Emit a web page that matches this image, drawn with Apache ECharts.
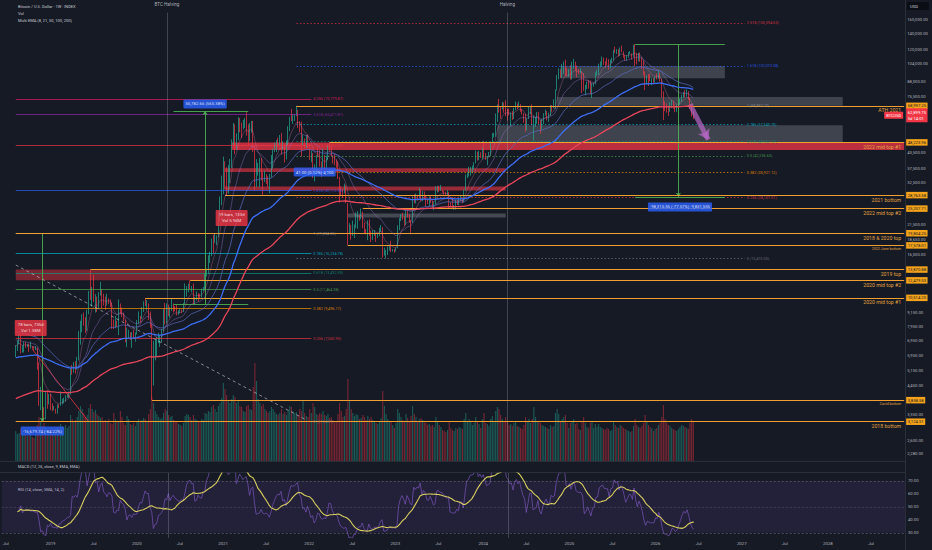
<!DOCTYPE html>
<html>
<head>
<meta charset="utf-8">
<script src="https://cdn.jsdelivr.net/npm/echarts@6/dist/echarts.min.js"></script>
<style>
html,body{margin:0;padding:0;background:#161a25;overflow:hidden}
#chart{width:932px;height:550px}
</style>
</head>
<body>
<div id="chart"></div>
<script>
// ================= DATA =================
const weekStart = '2018-06-11';   // first weekly slot on the time axis
const weekCount = 545;            // weekly slots up to late 2028
const dataStart = '2018-08-13';   // first weekly candle
const firstOpenK = 6.31;          // open of first candle (thousand USD)

// weekly closes (thousand USD), 2018-08-13 .. 2026-06-08
const closeK = [
6.48,6.70,7.27,6.25,6.50,6.71,6.60,6.60,6.48,6.50,6.42,6.37,6.37,5.57,4.02,4.11,3.52,3.22,3.99,3.81,4.05,
3.55,3.54,3.54,3.41,3.68,3.66,3.83,3.85,3.92,4.00,4.02,4.10,5.20,5.15,5.30,5.20,5.75,6.95,8.20,8.75,8.55,7.65,8.98,10.85,10.80,11.45,10.20,10.55,9.50,10.80,11.30,10.30,10.15,9.75,10.40,10.35,10.05,8.05,7.90,8.30,8.20,9.55,9.20,9.05,8.50,6.90,7.40,7.50,7.10,7.50,7.40,7.45,
8.18,8.70,8.60,9.35,10.15,9.90,9.95,8.55,8.05,5.36,5.82,5.89,6.78,6.90,7.15,7.55,8.90,8.75,9.70,8.90,9.45,9.70,9.40,9.30,9.10,9.10,9.25,9.20,9.95,11.10,11.70,11.90,11.65,11.70,10.25,10.35,10.95,10.75,10.68,11.37,11.50,13.05,13.75,15.48,16.00,18.40,18.20,19.15,19.25,23.80,26.45,32.20,
38.2,35.8,32.25,33.1,38.9,48.6,57.5,45.2,50.95,59.0,57.5,55.8,58.8,60.0,56.2,49.1,56.6,58.2,46.45,34.7,35.6,35.8,39.0,35.5,34.7,35.3,34.25,31.8,35.4,39.85,43.8,47.0,49.2,48.8,51.8,46.0,47.3,43.2,48.2,54.7,61.5,61.2,61.3,63.3,65.0,58.7,57.3,49.4,50.1,46.7,50.8,47.3,
41.85,43.1,36.3,37.9,42.4,42.2,38.4,37.7,38.4,37.8,41.3,46.8,46.4,42.2,39.7,39.5,38.5,34.1,31.3,30.3,29.4,29.9,26.6,20.6,21.0,19.3,20.8,20.8,22.6,23.3,23.2,24.4,21.6,20.0,19.8,21.8,19.4,18.8,19.3,19.4,19.2,19.6,20.6,21.0,16.3,16.3,16.45,17.1,17.1,16.75,16.85,16.55,
17.1,20.9,22.7,23.75,22.95,21.8,24.3,23.55,22.4,22.1,28.0,27.45,28.45,28.3,30.3,27.6,29.25,28.7,26.9,26.75,28.1,27.1,25.85,26.35,30.5,30.6,30.15,30.25,29.8,29.3,29.05,29.3,26.1,26.0,25.85,25.85,26.55,26.25,27.95,27.95,26.85,29.95,34.5,35.0,37.05,37.35,37.45,39.45,43.8,41.4,43.0,42.3,
43.95,42.85,41.6,42.05,42.55,48.3,51.65,51.7,63.1,68.95,68.4,67.2,71.3,69.4,65.65,64.95,63.45,63.9,61.5,66.95,69.3,67.75,69.65,66.65,64.25,62.7,55.85,60.8,68.15,68.25,58.1,58.7,59.45,64.2,57.3,54.85,59.95,63.3,65.6,62.8,62.9,69.0,67.9,68.75,80.4,89.8,97.9,97.2,101.2,104.5,95.1,93.7,98.3,
94.5,101.3,102.6,97.7,96.5,96.2,96.3,94.3,80.7,82.6,86.1,82.5,78.3,84.5,85.15,93.8,94.3,104.1,106.5,107.8,105.7,105.6,105.5,100.9,108.4,109.2,119.1,117.3,119.4,114.2,119.3,117.5,113.5,108.3,111.2,115.3,115.3,112.2,123.5,115.0,108.7,114.5,110.6,104.7,94.2,86.8,90.4,89.3,88.2,88.5,87.8,91.5,
90.6,95.0,89.0,78.5,69.5,68.8,67.5,66.0,68.0,70.5,69.0,66.5,67.5,70.0,72.5,75.5,77.8,76.5,78.5,74.5,68.5,64.0,62.89975
];
const highK = [
6.62,6.90,7.40,7.40,6.60,6.83,6.83,6.70,6.72,6.85,6.54,6.54,6.56,6.46,5.58,4.40,4.20,3.60,4.20,4.25,4.10,
4.10,3.74,3.65,3.55,3.70,3.71,4.20,3.91,3.95,4.05,4.09,4.20,5.30,5.45,5.60,5.65,5.90,7.60,8.40,8.95,9.10,8.70,9.35,11.25,13.87,11.70,13.20,10.90,10.65,11.10,12.30,11.45,10.95,10.65,10.95,10.45,10.35,10.05,8.50,8.80,8.40,10.35,9.95,9.55,9.10,8.50,7.85,7.70,7.45,7.52,7.65,7.50,
8.45,9.20,8.80,9.60,10.17,10.50,10.30,9.95,9.20,8.20,6.90,6.95,7.20,7.47,7.30,7.75,9.45,10.00,9.95,9.85,9.60,10.40,9.95,9.70,9.80,9.30,9.45,9.40,10.00,12.10,11.80,12.08,12.48,11.80,12.10,10.60,11.18,10.99,10.95,11.50,11.70,13.35,14.00,15.95,16.50,18.80,19.50,19.80,19.40,24.30,28.40,34.80,
41.95,40.1,37.8,38.6,41.0,49.7,58.35,57.5,52.65,61.8,61.2,58.6,60.2,61.3,64.9,57.6,58.45,59.5,59.6,46.55,40.9,39.5,41.3,41.4,36.0,36.6,35.1,34.6,35.4,42.6,45.3,48.1,49.3,50.5,51.9,52.9,48.8,47.3,49.2,56.5,62.0,67.0,63.7,63.5,68.997,66.3,59.3,59.1,51.95,50.1,51.8,52.1,
47.6,44.5,43.5,38.9,42.6,45.8,44.7,40.0,45.4,42.6,42.4,46.9,48.224,47.0,42.5,42.9,40.8,40.0,34.4,31.3,30.6,32.2,31.7,26.6,21.85,21.5,22.4,21.6,24.3,24.6,23.6,25.208,24.45,22.0,20.6,22.5,22.7,20.3,20.4,20.45,19.9,19.7,20.9,21.45,21.0,17.2,16.8,17.4,17.45,18.4,16.95,16.95,
17.2,21.4,23.0,23.9,24.2,23.45,25.2,25.1,23.9,22.6,28.4,29.0,29.2,28.6,31.0,30.5,30.0,29.8,28.1,27.6,28.4,28.45,27.3,26.8,31.4,31.5,31.5,31.8,30.35,30.05,29.75,30.2,29.7,26.8,28.2,26.1,27.5,27.4,28.05,28.6,28.0,30.3,35.2,35.95,38.0,37.95,38.4,39.7,44.5,44.0,44.4,43.8,
45.9,49.0,43.5,42.25,43.9,48.6,52.8,52.95,64.0,70.0,73.8,68.9,71.75,71.3,72.8,66.9,67.2,64.7,65.5,67.7,71.95,70.6,71.95,70.2,66.95,63.35,63.8,61.0,68.5,68.8,70.0,62.7,61.8,65.0,64.95,59.8,60.7,64.2,66.5,65.6,64.5,69.4,69.5,73.6,81.0,93.45,99.6,98.7,104.0,106.5,108.35,99.9,98.9,
102.7,106.3,109.35,106.4,102.5,98.8,99.5,96.5,95.0,84.7,87.45,88.75,88.5,86.0,86.45,95.75,97.9,104.3,106.6,111.9,110.7,106.8,110.5,108.9,108.5,110.5,119.5,123.2,120.25,120.0,122.3,124.5,117.6,113.5,113.4,116.8,117.9,115.4,125.7,126.2,115.9,116.0,116.4,110.8,107.5,96.5,93.0,94.1,94.6,90.3,90.5,92.0,
94.8,97.8,95.5,90.0,79.5,72.0,70.5,69.0,71.5,73.0,72.5,70.0,69.8,71.5,74.0,77.0,79.0,80.5,81.0,79.5,75.0,69.0,65.5
];
const lowK = [
5.88,6.25,6.68,6.10,6.15,6.16,6.45,6.50,6.20,6.40,6.38,6.25,6.30,5.20,3.65,3.50,3.33,3.1245,3.20,3.55,3.70,
3.50,3.46,3.50,3.38,3.38,3.57,3.65,3.70,3.74,3.80,3.95,3.95,4.08,4.95,5.05,5.00,5.20,5.70,6.65,7.50,8.00,7.45,7.60,8.95,10.30,9.65,10.10,9.10,9.15,9.40,10.75,9.50,9.75,9.35,9.75,9.90,9.60,7.75,7.75,7.80,7.90,7.30,9.00,8.70,8.35,6.80,6.50,7.10,6.95,6.45,7.05,6.85,
7.35,8.12,8.25,8.55,9.15,9.70,9.30,8.45,7.85,3.858,4.45,5.70,5.87,6.75,6.50,6.80,7.65,8.10,8.20,8.80,8.65,9.25,9.10,9.20,8.85,8.90,9.05,9.05,9.15,9.90,10.65,11.10,11.40,11.10,9.90,9.90,10.25,10.15,10.40,10.55,11.20,11.40,12.95,13.25,14.80,15.80,16.20,18.00,17.60,19.00,22.40,26.10,
29.0,30.4,28.8,29.2,32.3,37.5,47.0,43.0,44.95,49.3,53.3,50.4,54.8,55.5,51.5,47.0,48.8,53.0,43.8,30.0,31.1,34.8,31.0,33.3,28.8,32.7,32.1,31.1,29.3,34.2,37.4,43.8,43.9,46.1,46.6,42.8,44.7,39.6,40.8,47.1,53.9,59.5,57.8,59.5,62.3,55.6,53.3,42.0,46.8,45.5,45.6,45.7,
40.6,39.7,34.0,32.9,36.3,41.7,38.0,34.3,37.4,37.2,37.6,40.5,44.2,42.1,39.2,38.6,37.6,33.7,26.7,28.6,28.0,29.3,26.6,17.578,19.6,18.6,19.3,18.9,20.8,20.7,22.4,22.7,20.8,19.8,19.6,18.5,19.3,18.15,18.5,19.3,18.2,18.9,19.25,20.1,15.6,15.9,15.48,16.0,16.7,16.5,16.55,16.35,
16.55,17.2,20.4,22.3,22.6,21.35,21.55,23.1,21.95,19.6,21.9,26.6,26.5,27.25,28.1,27.1,27.1,27.7,25.8,26.4,25.9,26.6,25.35,24.8,26.25,29.5,29.7,29.95,29.5,28.9,28.6,28.7,25.1,25.8,25.35,24.9,24.95,26.1,26.0,27.25,26.55,26.8,29.9,34.0,34.5,34.8,35.65,36.9,39.3,40.3,40.5,41.4,
40.75,41.5,40.6,38.55,41.8,42.25,47.7,50.6,50.9,59.0,64.55,60.8,66.5,64.5,62.3,59.6,62.8,56.55,60.2,60.65,66.1,66.7,68.5,65.05,63.4,58.45,53.5,54.3,60.6,63.5,57.1,49.05,56.1,57.8,57.2,52.55,54.6,57.6,62.7,59.8,58.9,62.5,65.1,67.5,66.8,80.2,89.5,90.8,90.5,94.15,92.2,92.5,91.5,
89.25,89.25,99.5,97.5,91.2,94.1,94.8,78.2,80.0,76.6,81.2,81.6,77.1,74.5,83.1,85.0,92.8,93.3,100.7,102.0,103.1,100.4,102.7,98.2,99.6,105.0,107.5,115.7,114.7,112.0,112.7,116.8,110.6,107.3,107.4,110.6,114.7,108.6,111.6,102.0,103.5,106.7,106.3,98.9,93.0,80.5,85.3,83.8,87.6,84.4,86.5,86.8,
89.3,90.0,87.5,75.0,60.0,65.5,64.5,62.5,65.0,67.5,67.0,64.8,65.0,66.8,69.5,71.5,74.5,75.0,75.5,73.0,67.0,62.0,60.5
];
// weekly volume (estimated, thousands)
const volumeK = [
30,27,28,32,29,27,26,25,28,27,24,23,26,36,44,40,35,38,34,30,29,
31,33,30,32,34,33,37,35,34,36,33,35,46,42,40,41,44,50,55,52,48,44,46,53,57,52,49,51,47,45,43,44,40,41,39,42,38,37,48,42,40,39,50,44,38,36,45,42,37,36,38,35,
40,42,39,41,43,42,40,47,52,64,58,50,47,44,42,43,48,52,50,46,44,45,41,39,40,37,36,35,38,45,47,46,44,41,46,42,41,40,39,42,41,48,47,50,49,54,56,52,49,55,58,63,
78,72,66,60,58,62,66,64,58,60,55,54,50,49,55,56,52,51,74,98,80,62,58,55,57,52,50,48,50,54,52,49,47,46,48,52,47,49,46,51,55,54,50,48,49,46,52,50,60,48,45,44,
52,48,58,54,47,46,48,47,50,46,45,47,43,44,41,40,39,47,58,50,44,45,52,82,60,52,48,45,47,46,42,43,46,44,41,45,42,44,41,40,38,37,40,43,70,55,47,42,39,40,36,33,
38,52,48,44,41,40,47,43,40,45,55,47,44,40,42,43,41,39,38,36,37,35,36,34,44,40,36,34,31,30,29,31,40,33,31,30,33,32,34,33,32,42,48,40,42,39,36,38,44,40,37,33,
42,48,38,37,35,42,45,40,50,54,52,46,42,40,44,39,36,37,35,38,39,35,34,33,32,36,44,40,42,38,42,54,44,40,39,38,36,35,34,33,32,36,34,35,48,52,47,40,42,44,46,38,33,
38,40,42,37,38,32,31,40,44,38,34,33,38,40,33,37,34,37,34,33,32,31,33,32,30,31,39,36,34,33,36,35,33,32,31,30,29,30,35,42,36,34,33,35,38,46,40,36,34,33,30,32,
33,36,38,44,56,42,38,36,35,33,32,31,30,32,34,36,35,34,33,32,38,42,40
];

const emaLengths = [8, 21, 50, 100, 200];
const emaSeeds = [6600, 7000, 7600, 5840, 3890];   // EMA values just before first candle
const rsiSeedGain = 330, rsiSeedLoss = 400;

const priceTicks = [160000,140000,120000,104000,88000,75500,43500,37500,32500,21500,18650,16000,9150,7950,6950,5950,5150,4450,3350,2600,2280];
const rsiTicks = [70, 60, 50, 40, 30];

// horizontal levels: price, start date, text, small text
const levels = [
  [68997.25, '2021-11-08', 'ATH 2021', 0],
  [48223.96, '2022-03-28', '2022 mid top #1', 0],
  [28763.58, '2021-01-11', '2021 bottom', 0],
  [25207.71, '2022-08-15', '2022 mid top #2', 0],
  [19804.25, '2018-08-13', '2018 & 2020 top', 0],
  [17578.01, '2022-06-13', '2022 June bottom', 1],
  [13870.88, '2019-06-24', '2019 top', 0],
  [12479.33, '2020-08-17', '2020 mid top #2', 0],
  [10514.20, '2020-02-10', '2020 mid top #1', 0],
  [3858.58, '2020-03-09', 'Covid bottom', 1],
  [3124.51, '2018-08-13', '2018 bottom', 0]
];

const fibA = { from: '2018-08-13', to: '2022-01-10', levels: [
  [0, 3124.51], [0.236, 7060.93], [0.382, 9496.17], [0.5, 11464.38], [0.618, 13432.59], [0.786, 16234.78],
  [1, 19804.25], [1.618, 30112.33], [2.618, 46792.07], [3.618, 63471.81], [4.236, 73779.87] ] };
const fibB = { from: '2021-11-08', to: '2027-01-11', levels: [
  [0, 15476.00], [0.236, 28107.01], [0.382, 35921.12], [0.5, 42236.63], [0.618, 48552.13], [0.786, 57543.70],
  [1, 68997.25], [1.618, 102073.38], [2.618, 155594.63] ] };

const redZones = [
  ['2018-08-13', '2020-10-19', 13870.88, 12479.33],
  ['2021-02-08', '2028-12-31', 48223.96, 44800],
  ['2021-01-11', '2024-04-08', 37450, 36050],
  ['2021-01-11', '2024-04-08', 31300, 30100]
];
const greyZones = [
  ['2024-11-25', '2026-10-19', 102000, 90500],
  ['2024-11-11', '2028-02-28', 75200, 69000],
  ['2024-03-04', '2028-02-28', 57100, 48400],
  ['2022-06-13', '2024-04-08', 24000, 23100]
];
// green measuring lines: start, end, arrow at end
const measureLines = [
  [['2020-06-08', 65649], ['2021-04-19', 65649], 0],
  [['2020-06-08', 9866], ['2021-04-19', 9866], 0],
  [['2020-10-19', 9866], ['2020-10-19', 65649], 1],
  [['2025-10-06', 126000], ['2026-10-19', 126000], 0],
  [['2025-10-06', 28300], ['2026-10-19', 28300], 0],
  [['2026-04-06', 126000], ['2026-04-06', 28300], 1],
  [['2018-12-03', 19804.25], ['2018-12-03', 3124.51], 1]
];
const trendLine = [['2018-08-13', 14500], ['2021-12-20', 3178]];
const redDiag = [['2018-10-22', 6350], ['2019-06-17', 3124.51]];
const projArrow = [['2026-05-25', 70000], ['2026-08-10', 49500]];
const notes = [
  ['2020-10-19', 70300, '55,782.66 (565.38%)', 'blue'],
  ['2022-01-24', 36075, '41.00 (0.12%) 4,100', 'blue'],
  ['2026-04-13', 25620, '-98,315.55 (-77.57%) -9,831,555', 'blue'],
  ['2018-12-03', 2852, '-16,679.74 (-84.22%)', 'blue'],
  ['2018-10-15', 7826, '78 bars, 735d\nVol 1.38M', 'red'],
  ['2021-02-08', 22995, '19 bars, 133d\nVol 5.96M', 'red']
];
const halvings = [['2020-05-11', 'BTC Halving'], ['2024-04-20', 'Halving']];
const lastPrice = 62899.75;
const countdown = '5d 14:01';

// ================= STYLE =================
const PMIN = 2126, PMAX = 194600;
const UP = '#22ab94', DN = '#f23645';
const ORANGE = '#f0a030', ORANGE_TXT = '#e2a23e';
const CLEAR = 'rgba(0,0,0,0)';
const emaColors = ['rgba(206,120,170,0.55)', 'rgba(149,117,205,0.7)', 'rgba(92,107,192,0.9)', '#3d6ef5', '#e8465a'];
const emaWidths = [0.6, 0.6, 0.8, 1.3, 1.3];
const redZoneColors = ['rgba(242,54,69,0.45)', 'rgba(242,54,69,0.75)', 'rgba(242,54,69,0.6)', 'rgba(242,54,69,0.6)'];
const greyZoneColors = ['rgba(120,123,134,0.42)', 'rgba(120,123,134,0.42)', 'rgba(120,123,134,0.42)', 'rgba(178,181,190,0.3)'];
const fibColors = {'0':'#787b86','0.236':'#f23645','0.382':'#ff9800','0.5':'#4caf50','0.618':'#089981','0.786':'#00bcd4','1':'#9598a1','1.618':'#2962ff','2.618':'#f23645','3.618':'#9c27b0','4.236':'#e91e63'};
const FONT = 'Roboto';

// ================= BUILD =================
const DAY = 86400000;
const t0 = Date.parse(weekStart + 'T00:00:00Z');
const cats = [];
for (let k = 0; k < weekCount; k++) cats.push(new Date(t0 + k * 7 * DAY).toISOString().slice(0, 10));
const firstCat = cats[0], lastCat = cats[weekCount - 1];
function wk(d) {
  let k = Math.floor((Date.parse(d + 'T00:00:00Z') - t0) / (7 * DAY));
  k = Math.max(0, Math.min(weekCount - 1, k));
  return cats[k];
}
const off = cats.indexOf(dataStart);
const fmt = v => v.toLocaleString('en-US', {minimumFractionDigits: 2, maximumFractionDigits: 2});

const candles = [];
let prevK = firstOpenK;
for (let i = 0; i < closeK.length; i++) {
  const o = prevK, c = closeK[i];
  const h = Math.max(highK[i], o, c), l = Math.min(lowK[i], o, c);
  candles.push([cats[off + i], o * 1000, c * 1000, l * 1000, h * 1000]);
  prevK = c;
}
const volData = volumeK.map((v, i) => ({
  value: [cats[off + i], v],
  itemStyle: {color: candles[i][2] >= candles[i][1] ? 'rgba(34,171,148,0.45)' : 'rgba(242,54,69,0.45)'}
}));
const emaData = emaLengths.map((n, j) => {
  let e = emaSeeds[j];
  const a = 2 / (n + 1);
  return closeK.map((c, i) => { e = a * c * 1000 + (1 - a) * e; return [cats[off + i], +e.toFixed(2)]; });
});
let ag = rsiSeedGain, al = rsiSeedLoss, pc = firstOpenK * 1000;
const rsiVals = closeK.map(ck => {
  const c = ck * 1000, ch = c - pc;
  ag = (ag * 13 + Math.max(ch, 0)) / 14;
  al = (al * 13 + Math.max(-ch, 0)) / 14;
  pc = c;
  return 100 - 100 / (1 + ag / al);
});
const rsiData = rsiVals.map((v, i) => [cats[off + i], +v.toFixed(2)]);
const rsiMaData = rsiVals.map((v, i) => {
  const s = rsiVals.slice(Math.max(0, i - 13), i + 1);
  return [cats[off + i], +(s.reduce((a, b) => a + b, 0) / s.length).toFixed(2)];
});

const xLab = cats.map(d => {
  const t = Date.parse(d + 'T00:00:00Z');
  for (let j = 0; j < 7; j++) {
    const dd = new Date(t + j * DAY);
    if (dd.getUTCDate() === 1) {
      if (dd.getUTCMonth() === 0) return String(dd.getUTCFullYear());
      if (dd.getUTCMonth() === 6) return 'Jul';
    }
  }
  return '';
});

// zones
const zoneData = [];
redZones.forEach((z, i) => zoneData.push([{coord: [wk(z[0]), z[2]], itemStyle: {color: redZoneColors[i]}}, {coord: [wk(z[1]), z[3]]}]));
greyZones.forEach((z, i) => zoneData.push([{coord: [wk(z[0]), z[2]], itemStyle: {color: greyZoneColors[i]}}, {coord: [wk(z[1]), z[3]]}]));

// annotation lines
const annoLines = [];
function fibLines(fib, dashed) {
  fib.levels.forEach(([r, p]) => {
    const col = fibColors[String(r)];
    annoLines.push([
      {coord: [wk(fib.from), p], lineStyle: {color: col, width: 0.8, type: dashed ? [1.5, 2] : 'solid', opacity: 0.85},
       label: {show: true, position: 'end', distance: 2, formatter: r + ' (' + fmt(p) + ')', color: col, fontSize: 3.8, fontFamily: FONT}},
      {coord: [wk(fib.to), p]}
    ]);
  });
}
fibLines(fibA, false);
fibLines(fibB, true);
measureLines.forEach(m => {
  annoLines.push([
    {coord: [wk(m[0][0]), m[0][1]], symbol: 'none', lineStyle: {color: '#4caf50', width: 0.9, type: 'solid'}, label: {show: false}},
    {coord: [wk(m[1][0]), m[1][1]], symbol: m[2] ? 'arrow' : 'none', symbolSize: 4}
  ]);
});
annoLines.push([
  {coord: [wk(trendLine[0][0]), trendLine[0][1]], lineStyle: {color: 'rgba(200,202,210,0.7)', width: 0.9, type: [3, 3]}, label: {show: false}},
  {coord: [wk(trendLine[1][0]), trendLine[1][1]]}
]);
annoLines.push([
  {coord: [wk(redDiag[0][0]), redDiag[0][1]], lineStyle: {color: 'rgba(242,54,69,0.85)', width: 0.9, type: 'solid'}, label: {show: false}},
  {coord: [wk(redDiag[1][0]), redDiag[1][1]]}
]);
halvings.forEach(h => {
  annoLines.push([
    {coord: [wk(h[0]), 172000], lineStyle: {color: 'rgba(178,181,190,0.35)', width: 0.8, type: 'solid'}, label: {show: false}},
    {coord: [wk(h[0]), PMIN]}
  ]);
});
annoLines.push([
  {coord: [wk(projArrow[0][0]), projArrow[0][1]], symbol: 'none', lineStyle: {color: 'rgba(186,104,200,0.7)', width: 5, type: 'solid'}, label: {show: false}},
  {coord: [wk(projArrow[1][0]), projArrow[1][1]], symbol: 'arrow', symbolSize: 10}
]);

// level lines and right-axis labels (two-point transparent lines carrying end labels)
function axisTag(p, label) {
  return [{coord: [firstCat, p], lineStyle: {color: CLEAR, width: 0.5, type: 'solid'}, label: Object.assign({show: true, position: 'end', fontFamily: FONT}, label)}, {coord: [lastCat, p]}];
}
const levelData = [];
levels.forEach(([p, d, txt, small]) => {
  levelData.push([
    {coord: [wk(d), p], lineStyle: {color: ORANGE, width: 1, type: 'solid'},
     label: {show: true, position: 'insideEndBottom', formatter: txt, color: ORANGE_TXT, fontSize: small ? 3.6 : 5.2, fontFamily: FONT, distance: [3, 2]}},
    {coord: [lastCat, p]}
  ]);
});
priceTicks.forEach(p => levelData.push(axisTag(p, {distance: 3, formatter: fmt(p), color: '#b2b5be', fontSize: 4.2})));
levels.forEach(([p]) => levelData.push(axisTag(p, {distance: 2, formatter: fmt(p), color: '#131722', backgroundColor: '#f5a31a', padding: [1.5, 1.5, 1, 1.5], fontSize: 4.2})));
levelData.push(axisTag(lastPrice, {position: 'insideEnd', distance: 1, formatter: 'BTCUSD', color: '#fff', backgroundColor: '#f23645', padding: [1.5, 2], fontSize: 4}));
levelData.push(axisTag(lastPrice, {distance: 2, formatter: fmt(lastPrice) + '\n' + countdown, color: '#fff', backgroundColor: '#f23645', padding: [1.5, 1.5], lineHeight: 5.5, fontSize: 4.2}));

const noteData = notes.map(([d, p, txt, kind]) => ({
  value: [wk(d), p],
  label: {show: true, position: 'inside', formatter: txt, color: '#fff', backgroundColor: kind === 'blue' ? '#2962ff' : '#f23645',
    padding: kind === 'blue' ? [1.5, 2] : [2, 3], lineHeight: 6, fontSize: 4.3, fontFamily: FONT, borderRadius: 1}
}));
halvings.forEach(h => noteData.push({value: [wk(h[0]), 185340], label: {show: true, position: 'inside', formatter: h[1], color: '#d1d4dc', fontSize: 4.6, fontFamily: FONT}}));

// RSI markers
const rsiGuide = {70: [2, 2], 50: [2, 2], 30: [2, 2]};
const rsiLines = rsiTicks.map(v => ({
  yAxis: v,
  lineStyle: rsiGuide[v] ? {color: v === 50 ? 'rgba(120,123,134,0.45)' : 'rgba(120,123,134,0.7)', width: 0.7, type: rsiGuide[v]} : {color: CLEAR, width: 0.5},
  label: {show: true, position: 'end', distance: 3, formatter: v.toFixed(2), color: '#b2b5be', fontSize: 4.2}
}));
halvings.forEach(h => rsiLines.push({xAxis: wk(h[0]), lineStyle: {color: 'rgba(178,181,190,0.35)', width: 0.8, type: 'solid'}, label: {show: false}}));

const series = [
  {type: 'line', xAxisIndex: 0, yAxisIndex: 0, data: [[lastCat, 10000]], symbol: 'none', lineStyle: {opacity: 0}, clip: false, silent: true, z: 1,
   markArea: {silent: true, data: zoneData}},
  {type: 'bar', xAxisIndex: 1, yAxisIndex: 1, data: volData, barWidth: 1.1, silent: true, z: 1},
  {type: 'line', xAxisIndex: 0, yAxisIndex: 0, data: [[lastCat, 10000]], symbol: 'none', lineStyle: {opacity: 0}, clip: false, silent: true, z: 2,
   markLine: {silent: true, symbol: ['none', 'none'], data: annoLines}},
  {type: 'candlestick', xAxisIndex: 0, yAxisIndex: 0, data: candles, dimensions: ['date', 'open', 'close', 'low', 'high'],
   encode: {x: 'date', y: ['open', 'close', 'low', 'high']}, barWidth: 1.2,
   itemStyle: {color: UP, color0: DN, borderColor: UP, borderColor0: DN, borderWidth: 0.7}, z: 4}
];
emaData.forEach((d, j) => series.push({type: 'line', xAxisIndex: 0, yAxisIndex: 0, data: d, symbol: 'none', silent: true,
  lineStyle: {color: emaColors[j], width: emaWidths[j]}, z: 5}));
series.push({type: 'line', xAxisIndex: 0, yAxisIndex: 0, data: [[lastCat, 10000]], symbol: 'none', lineStyle: {opacity: 0}, clip: false, silent: true, z: 6,
  markLine: {silent: true, symbol: ['none', 'none'], data: levelData}});
series.push({type: 'scatter', xAxisIndex: 0, yAxisIndex: 0, data: noteData, symbolSize: 0, clip: false, silent: true, z: 8});
series.push({type: 'line', xAxisIndex: 2, yAxisIndex: 2, data: [[lastCat, 50]], symbol: 'none', lineStyle: {opacity: 0}, clip: false, silent: true, z: 1,
  markArea: {silent: true, data: [[{yAxis: 30, itemStyle: {color: 'rgba(126,87,194,0.13)'}}, {yAxis: 70}]]},
  markLine: {silent: true, symbol: ['none', 'none'], data: rsiLines}});
series.push({type: 'line', xAxisIndex: 2, yAxisIndex: 2, data: rsiData, symbol: 'none', silent: true, lineStyle: {color: 'rgba(126,87,194,0.95)', width: 0.7}, z: 3});
series.push({type: 'line', xAxisIndex: 2, yAxisIndex: 2, data: rsiMaData, symbol: 'none', silent: true, lineStyle: {color: '#d9cf5e', width: 1.1}, z: 4});

const hiddenX = {type: 'category', data: cats, axisLine: {show: false}, axisTick: {show: false}, axisLabel: {show: false}, splitLine: {show: false}};
const txt = (x, y, s, size, col) => ({type: 'text', x: x, y: y, silent: true, style: {text: s, fill: col || '#c8cbd3', fontSize: size || 4, fontFamily: FONT}});

const option = {
  backgroundColor: '#161a25',
  animation: false,
  textStyle: {fontFamily: FONT},
  grid: [
    {left: 0, right: 27, top: 0, height: 461},
    {left: 0, right: 27, top: 331, height: 130},
    {left: 0, right: 27, top: 473, height: 65}
  ],
  xAxis: [
    Object.assign({gridIndex: 0}, hiddenX),
    Object.assign({gridIndex: 1}, hiddenX),
    {type: 'category', gridIndex: 2, data: cats, axisLine: {show: false}, axisTick: {show: false}, splitLine: {show: false},
     axisLabel: {show: true, interval: (i) => xLab[i] !== '', formatter: (v, i) => xLab[i], color: '#b2b5be', fontSize: 4.3, margin: 3}}
  ],
  yAxis: [
    {type: 'log', gridIndex: 0, min: PMIN, max: PMAX, position: 'right', axisLine: {show: false}, axisTick: {show: false}, axisLabel: {show: false}, splitLine: {show: false}},
    {type: 'value', gridIndex: 1, min: 0, max: 130, show: false},
    {type: 'value', gridIndex: 2, min: 26, max: 76, show: false}
  ],
  graphic: [
    {type: 'line', silent: true, shape: {x1: 0, y1: 461.5, x2: 905, y2: 461.5}, style: {stroke: '#2a2e39', lineWidth: 1}},
    {type: 'line', silent: true, shape: {x1: 0, y1: 472.5, x2: 905, y2: 472.5}, style: {stroke: '#2a2e39', lineWidth: 1}},
    {type: 'line', silent: true, shape: {x1: 905.5, y1: 0, x2: 905.5, y2: 550}, style: {stroke: '#2a2e39', lineWidth: 1}},
    txt(18, 4, 'Bitcoin / U.S. Dollar · 1W · INDEX'),
    txt(18, 11, 'Vol'),
    txt(18, 18, 'Multi EMA (8, 21, 50, 100, 200)'),
    txt(18, 464, 'MACD (12, 26, close, 9, EMA, EMA)'),
    txt(18, 487, 'RSI (14, close, SMA, 14, 2)'),
    {type: 'rect', silent: true, shape: {x: 907, y: 2, width: 22, height: 8}, style: {fill: '#0c0e15'}},
    txt(910, 4, 'USD', 4.2, '#d1d4dc')
  ],
  series: series
};

const chart = echarts.init(document.getElementById('chart'), null, {renderer: 'svg', width: 932, height: 550});
chart.setOption(option);
</script>
</body>
</html>
